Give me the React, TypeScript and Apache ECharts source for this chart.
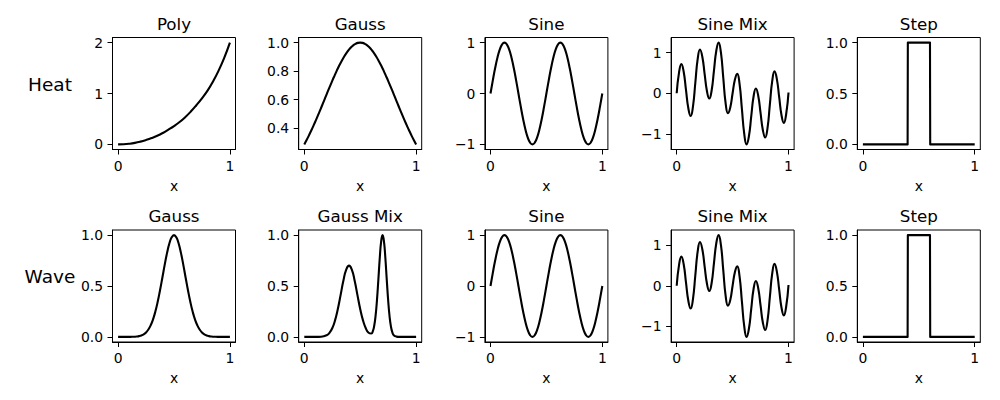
import React, { useEffect, useRef } from "react";
import * as echarts from "echarts";

// ---------- data ----------
const X48 = [
  0, 0.02083, 0.04167, 0.0625, 0.08333, 0.10417, 0.125, 0.14583, 0.16667, 0.1875,
  0.20833, 0.22917, 0.25, 0.27083, 0.29167, 0.3125, 0.33333, 0.35417, 0.375, 0.39583,
  0.41667, 0.4375, 0.45833, 0.47917, 0.5, 0.52083, 0.54167, 0.5625, 0.58333, 0.60417,
  0.625, 0.64583, 0.66667, 0.6875, 0.70833, 0.72917, 0.75, 0.77083, 0.79167, 0.8125,
  0.83333, 0.85417, 0.875, 0.89583, 0.91667, 0.9375, 0.95833, 0.97917, 1,
];

const X_POLY = [
  0, 0.05, 0.1, 0.15, 0.2, 0.25, 0.3, 0.35, 0.4, 0.45, 0.5, 0.55, 0.6, 0.65, 0.7, 0.75,
  0.8, 0.85, 0.9, 0.95, 1,
];
const POLY = [
  0, 0.003, 0.013, 0.03, 0.055, 0.087, 0.125, 0.17, 0.225, 0.29, 0.36, 0.44, 0.535, 0.645,
  0.77, 0.905, 1.055, 1.24, 1.455, 1.705, 2.0,
];

const HEAT_GAUSS = [
  0.2865, 0.317, 0.35, 0.384, 0.42, 0.457, 0.495, 0.534, 0.574, 0.614, 0.654, 0.693, 0.732,
  0.769, 0.805, 0.839, 0.87, 0.899, 0.925, 0.947, 0.966, 0.981, 0.991, 0.998, 1.0, 0.998,
  0.991, 0.981, 0.966, 0.947, 0.925, 0.899, 0.87, 0.839, 0.805, 0.769, 0.732, 0.693, 0.654,
  0.614, 0.574, 0.534, 0.495, 0.457, 0.42, 0.384, 0.35, 0.317, 0.2865,
];

const SINE = [
  0, 0.259, 0.5, 0.707, 0.866, 0.966, 1, 0.966, 0.866, 0.707, 0.5, 0.259, 0, -0.259, -0.5,
  -0.707, -0.866, -0.966, -1, -0.966, -0.866, -0.707, -0.5, -0.259, 0, 0.259, 0.5, 0.707,
  0.866, 0.966, 1, 0.966, 0.866, 0.707, 0.5, 0.259, 0, -0.259, -0.5, -0.707, -0.866, -0.966,
  -1, -0.966, -0.866, -0.707, -0.5, -0.259, 0,
];

const SINE_MIX = [
  0, 0.51, 0.72, 0.53, 0.08, -0.37, -0.56, -0.32, 0.26, 0.84, 1.08, 0.9, 0.475, 0.05, -0.13,
  0.07, 0.56, 1.05, 1.25, 1.0, 0.38, -0.24, -0.49, -0.35, 0.0, 0.34, 0.48, 0.225, -0.39, -1.0,
  -1.26, -1.06, -0.57, -0.08, 0.12, -0.06, -0.485, -0.91, -1.09, -0.85, -0.275, 0.3, 0.54,
  0.35, -0.095, -0.54, -0.73, -0.51, 0.02,
];

const X_STEP = [0, 0.4, 0.402, 0.6, 0.602, 1];
const STEP = [0, 0, 1, 1, 0, 0];

const WAVE_GAUSS = [
  0, 0, 0, 0.0001, 0.0002, 0.0004, 0.0009, 0.0019, 0.0039, 0.0076, 0.0142, 0.0255, 0.0439,
  0.0724, 0.114, 0.172, 0.249, 0.345, 0.458, 0.581, 0.707, 0.823, 0.917, 0.9785, 1, 0.9785,
  0.917, 0.823, 0.707, 0.581, 0.458, 0.345, 0.249, 0.172, 0.114, 0.0724, 0.0439, 0.0255,
  0.0142, 0.0076, 0.0039, 0.0019, 0.0009, 0.0004, 0.0002, 0.0001, 0, 0, 0,
];

const X_GMIX = [
  0, 0.05, 0.1, 0.15, 0.2, 0.225, 0.25, 0.275, 0.3, 0.325, 0.35, 0.375, 0.4, 0.425, 0.45,
  0.475, 0.5, 0.525, 0.55, 0.575, 0.6, 0.6125, 0.625, 0.6375, 0.65, 0.6625, 0.675, 0.6875,
  0.7, 0.7125, 0.725, 0.7375, 0.75, 0.7625, 0.775, 0.7875, 0.8, 0.825, 0.85, 0.9, 0.95, 1,
];
const GAUSS_MIX = [
  0, 0, 0.0002, 0.002, 0.0165, 0.04, 0.085, 0.162, 0.274, 0.413, 0.554, 0.66, 0.7, 0.66,
  0.554, 0.413, 0.274, 0.162, 0.085, 0.041, 0.033, 0.054, 0.107, 0.207, 0.362, 0.564, 0.775,
  0.938, 1.0, 0.938, 0.775, 0.563, 0.36, 0.203, 0.101, 0.044, 0.017, 0.003, 0, 0, 0, 0,
];

const X_TICKS = [0, 1];
const POLY_TICKS = [0, 1, 2];
const HEAT_GAUSS_TICKS = [0.4, 0.6, 0.8, 1.0];
const SINE_TICKS = [-1, 0, 1];
const UNIT_TICKS = [0, 0.5, 1];

const ROW_LABELS = ["Heat", "Wave"];
const TITLES_ROW1 = ["Poly", "Gauss", "Sine", "Sine Mix", "Step"];
const TITLES_ROW2 = ["Gauss", "Gauss Mix", "Sine", "Sine Mix", "Step"];

// ---------- layout ----------
const COL_LEFT = [112.5, 298.7, 484.9, 671.1, 857.3];
const ROW_TOP = [37.5, 230];
const W = 123;
const H = 112;
const FONT = "DejaVu Sans";

const intFmt = (v: number) => (v < 0 ? "\u2212" + Math.abs(v) : String(v));
const oneDec = (v: number) => v.toFixed(1);

type Panel = {
  title: string;
  xs: number[];
  ys: number[];
  yMin: number;
  yMax: number;
  ticks: number[];
  fmt: (v: number) => string;
  smooth: boolean;
};

const PANELS: Panel[] = [
  { title: TITLES_ROW1[0], xs: X_POLY, ys: POLY, yMin: -0.1, yMax: 2.1, ticks: POLY_TICKS, fmt: intFmt, smooth: true },
  { title: TITLES_ROW1[1], xs: X48, ys: HEAT_GAUSS, yMin: 0.2508, yMax: 1.0357, ticks: HEAT_GAUSS_TICKS, fmt: oneDec, smooth: true },
  { title: TITLES_ROW1[2], xs: X48, ys: SINE, yMin: -1.1, yMax: 1.1, ticks: SINE_TICKS, fmt: intFmt, smooth: true },
  { title: TITLES_ROW1[3], xs: X48, ys: SINE_MIX, yMin: -1.3855, yMax: 1.3755, ticks: SINE_TICKS, fmt: intFmt, smooth: true },
  { title: TITLES_ROW1[4], xs: X_STEP, ys: STEP, yMin: -0.05, yMax: 1.05, ticks: UNIT_TICKS, fmt: oneDec, smooth: false },
  { title: TITLES_ROW2[0], xs: X48, ys: WAVE_GAUSS, yMin: -0.05, yMax: 1.05, ticks: UNIT_TICKS, fmt: oneDec, smooth: true },
  { title: TITLES_ROW2[1], xs: X_GMIX, ys: GAUSS_MIX, yMin: -0.05, yMax: 1.05, ticks: UNIT_TICKS, fmt: oneDec, smooth: true },
  { title: TITLES_ROW2[2], xs: X48, ys: SINE, yMin: -1.1, yMax: 1.1, ticks: SINE_TICKS, fmt: intFmt, smooth: true },
  { title: TITLES_ROW2[3], xs: X48, ys: SINE_MIX, yMin: -1.3855, yMax: 1.3755, ticks: SINE_TICKS, fmt: intFmt, smooth: true },
  { title: TITLES_ROW2[4], xs: X_STEP, ys: STEP, yMin: -0.05, yMax: 1.05, ticks: UNIT_TICKS, fmt: oneDec, smooth: false },
];

function buildOption() {
  const grid: any[] = [];
  const xAxis: any[] = [];
  const yAxis: any[] = [];
  const series: any[] = [];
  const graphic: any[] = [];

  PANELS.forEach((p, i) => {
    const row = Math.floor(i / 5);
    const col = i % 5;
    const left = COL_LEFT[col];
    const top = ROW_TOP[row];
    grid.push({
      left,
      top,
      width: W,
      height: H,
      show: true,
      borderColor: "#000",
      borderWidth: 1,
      backgroundColor: "#fff",
      containLabel: false,
    });
    xAxis.push({
      type: "value",
      gridIndex: i,
      min: -0.05,
      max: 1.05,
      name: "x",
      nameLocation: "middle",
      nameGap: 29,
      nameTextStyle: { fontSize: 13.9, color: "#000", fontFamily: FONT },
      axisLine: { show: true, onZero: false, lineStyle: { color: "#000", width: 1 } },
      axisTick: { show: true, inside: false, length: 5, customValues: X_TICKS, lineStyle: { color: "#000", width: 1 } },
      axisLabel: { show: true, margin: 9, customValues: X_TICKS, formatter: intFmt, fontSize: 13.9, color: "#000", fontFamily: FONT },
      splitLine: { show: false },
    });
    yAxis.push({
      type: "value",
      gridIndex: i,
      min: p.yMin,
      max: p.yMax,
      axisLine: { show: true, onZero: false, lineStyle: { color: "#000", width: 1 } },
      axisTick: { show: true, inside: false, length: 5, customValues: p.ticks, lineStyle: { color: "#000", width: 1 } },
      axisLabel: { show: true, margin: 9.5, customValues: p.ticks, formatter: p.fmt, fontSize: 13.9, color: "#000", fontFamily: FONT },
      splitLine: { show: false },
    });
    series.push({
      type: "line",
      xAxisIndex: i,
      yAxisIndex: i,
      data: p.xs.map((x, k) => [x, p.ys[k]]),
      showSymbol: false,
      symbol: "none",
      smooth: p.smooth,
      lineStyle: { color: "#000", width: 2.1, join: "round" },
      silent: true,
    });
    graphic.push({
      type: "text",
      x: left + W / 2,
      y: row === 0 ? 23.5 : 216,
      style: {
        text: p.title,
        textAlign: "center",
        textVerticalAlign: "middle",
        fontSize: 16.7,
        fontFamily: FONT,
        fill: "#000",
      },
    });
  });

  ROW_LABELS.forEach((label, r) => {
    graphic.push({
      type: "text",
      x: 50,
      y: r === 0 ? 84 : 276.5,
      style: {
        text: label,
        textAlign: "center",
        textVerticalAlign: "middle",
        fontSize: 18.5,
        fontFamily: FONT,
        fill: "#000",
      },
    });
  });

  return {
    animation: false,
    backgroundColor: "#fff",
    textStyle: { fontFamily: FONT },
    grid,
    xAxis,
    yAxis,
    series,
    graphic,
  };
}

export default function App() {
  const ref = useRef<HTMLDivElement>(null);
  useEffect(() => {
    if (!ref.current) return;
    const chart = echarts.init(ref.current, null, { renderer: "svg" });
    chart.setOption(buildOption() as any);
    return () => chart.dispose();
  }, []);
  return (
    <div
      ref={ref}
      style={{ position: "absolute", left: 0, top: 0, width: 1000, height: 400, background: "#fff" }}
    />
  );
}
